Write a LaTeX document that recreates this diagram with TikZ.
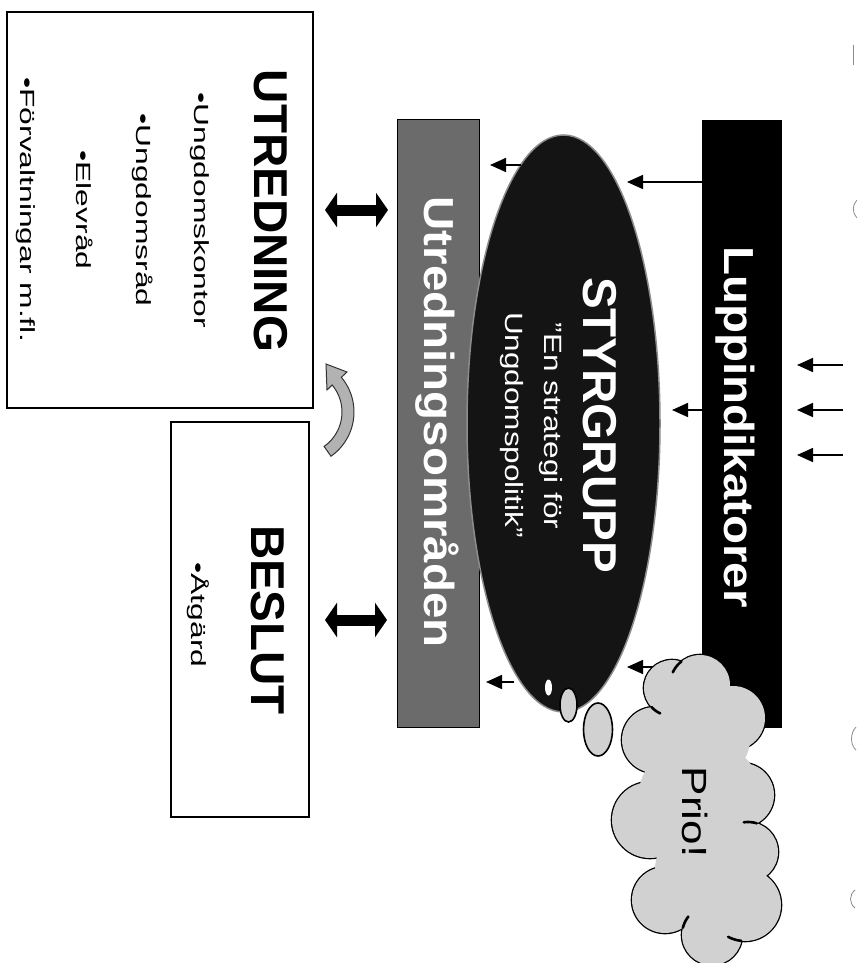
\documentclass[tikz,border=0pt]{standalone}
\usepackage{fontspec}
\setmainfont{Liberation Sans}
\newfontfamily\bulletfont{Liberation Sans}[FakeStretch=1.55]
\newfontfamily\widefont{Liberation Sans}[FakeStretch=1.26]
\newfontfamily\midfont{Liberation Sans}[FakeStretch=1.13]
\usetikzlibrary{shapes.geometric,arrows.meta}
\definecolor{bargray}{gray}{0.42}
\definecolor{cloudgray}{gray}{0.82}
\definecolor{curvegray}{gray}{0.7}
\definecolor{ellblack}{gray}{0.08}
\begin{document}
\begin{tikzpicture}[x=1pt,y=-1pt,
  frame/.style={draw=black,line width=1.6pt,fill=white,inner sep=0pt},
  bar/.style={inner sep=0pt},
  rot/.style={rotate=-90,inner sep=0pt,anchor=center},
  hd/.style={rot,font=\fontsize{47.5}{50}\selectfont\bfseries},
  barhd/.style={rot,font=\fontsize{42}{44}\midfont\bfseries},
  bl/.style={rot,font=\fontsize{20.5}{24}\bulletfont},
  sub/.style={rot,font=\fontsize{25}{28}\widefont},
  arr/.style={-{Triangle[length=16pt,width=14pt]},line width=1.6pt},
  dbl/.style={{Triangle[length=12pt,width=34pt]}-{Triangle[length=12pt,width=34pt]},line width=11pt},
  cloudline/.style={draw=black,line width=2.6pt},
  scanmark/.style={draw=black!45,line width=0.8pt}]
\useasboundingbox (0,0) rectangle (857,963);
\clip (0,0) rectangle (857,963);
\fill[white] (0,0) rectangle (857,963);

% boxes
\node[frame,minimum width=306,minimum height=396] (utr) at (160,210) {};
\node[frame,minimum width=138,minimum height=395] (bes) at (240,619.5) {};

% bars
\node[bar,fill=black,minimum width=80,minimum height=608] (lupp) at (742,424) {};
\node[bar,fill=bargray,draw=black,line width=1pt,minimum width=82,minimum height=607] (omr) at (438,423.5) {};

% arrow from cloud (tail hidden under cloud)
\coordinate (a3) at (627,667);
\coordinate (cloudL) at (662,667);
\draw[arr] (cloudL) -- (a3);

% ellipse
\node[ellipse,fill=ellblack,draw=black!45,line width=1.5pt,minimum width=193,minimum height=577,inner sep=0pt] (sty) at (563.5,423.5) {};

% bubbles
\node[ellipse,fill=white,minimum width=7,minimum height=16,inner sep=0pt] (b1) at (548.5,687.5) {};
\node[ellipse,fill=cloudgray,draw=black,line width=1.6pt,minimum width=17,minimum height=34,inner sep=0pt] (b2) at (568.5,705) {};
\node[ellipse,fill=cloudgray,draw=black,line width=1.6pt,minimum width=29,minimum height=53,inner sep=0pt] (b3) at (598,729.5) {};

% cloud: outlines then fill
\foreach \cx/\cy/\r in {672/688/28, 700/685/30, 733/718/32, 742/795/32, 748/852/30, 745/905/36, 712/935/30, 665/900/33, 650/820/38, 655/740/33}
  \draw[cloudline] (\cx,\cy) circle[radius=\r pt];
\foreach \cx/\cy/\r in {672/688/28, 700/685/30, 733/718/32, 742/795/32, 748/852/30, 745/905/36, 712/935/30, 665/900/33, 650/820/38, 655/740/33, 700/800/62, 715/740/35, 705/870/50, 690/718/27}
  \fill[cloudgray] (\cx,\cy) circle[radius=\r pt];
% inner bump lines (arcs continuing from the indents into the cloud)
\foreach \cx/\cy/\r/\aa/\ab in {700/685/30/205/232, 672/688/28/115/137, 745/905/36/96/118, 712/935/30/194/218, 748/852/30/262/287}
  \draw[cloudline,line cap=round] plot[domain=\aa:\ab,samples=12] ({\cx+\r*cos(\x)},{\cy+\r*sin(\x)});
\node[rot,font=\fontsize{35}{38}\widefont] (prio) at (695,812) {Prio!};

% texts
\node[hd] (tUtr) at (271,211) {UTREDNING};
\node[bl] (t1) at (200,210) {•Ungdomskontor};
\node[bl] (t2) at (143,210) {•Ungdomsråd};
\node[bl] (t3) at (85,210) {•Elevråd};
\node[bl] (t4) at (26,210) {•Förvaltningar m.fl.};
\node[hd] (tBes) at (268,620) {BESLUT};
\node[bl] (t5) at (198,615) {•Åtgärd};
\node[barhd,text=white] (tLupp) at (735,427) {Luppindikatorer};
\node[barhd,text=white] (tOmr) at (437,422) {Utredningsområden};
\node[hd,text=white] (tSty) at (600,425) {STYRGRUPP};
\node[sub,text=white] (tS1) at (551,426) {”En strategi för};
\node[sub,text=white] (tS2) at (512,425) {Ungdomspolitik”};

% thin arrows
\coordinate (a1) at (627,182);
\coordinate (a2) at (672,410);
\coordinate (d1) at (490,165);
\coordinate (d2) at (486,682);
\coordinate (s1) at (521,165);
\coordinate (s2) at (514,682);
\draw[arr] (lupp.west |- a1) -- (a1);
\draw[arr] (lupp.west |- a2) -- (a2);
\draw[arr] (s1) -- (d1);
\draw[arr] (s2) -- (d2);
\foreach \yy/\nm in {365/e1,410/e2,455/e3}{
  \coordinate (\nm s) at (843,\yy);
  \coordinate (\nm t) at (797,\yy);
  \draw[arr] (\nm s) -- (\nm t);
}

% double arrows
\coordinate (da1a) at (325,210);
\coordinate (da1b) at (388,210);
\coordinate (da2a) at (325,620);
\coordinate (da2b) at (387,620);
\draw[dbl] (da1a) -- (da1b);
\draw[dbl] (da2a) -- (da2b);

% curved arrow
\filldraw[fill=curvegray,draw=black!80,line width=1pt]
  plot[domain=55:-40,samples=24] ({300+54*cos(\x)},{412+54*sin(\x)})
  -- (347,372) -- (326,364) -- (327,390)
  -- plot[domain=-40:55,samples=24] ({300+42*cos(\x)},{412+42*sin(\x)}) -- cycle;

% scan marks
\draw[scanmark] (853,45) -- (853,65);
\draw[scanmark] (857,200) .. controls (852,205) and (852,213) .. (857,218);
\draw[scanmark] (856,727) .. controls (850,733) and (850,745) .. (856,750);
\draw[scanmark] (855,890) .. controls (849,895) and (849,903) .. (855,908);
\end{tikzpicture}
\end{document}
